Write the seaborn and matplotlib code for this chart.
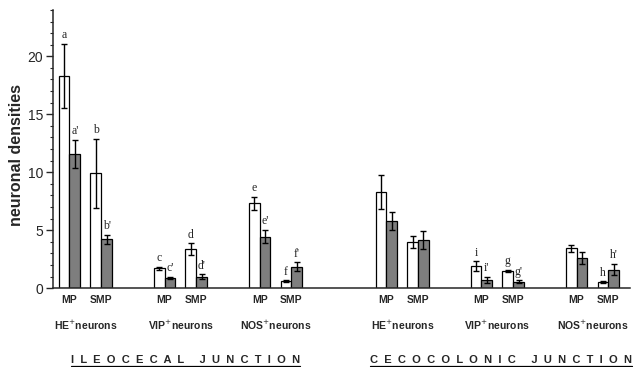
import matplotlib
matplotlib.use('Agg')
import matplotlib.pyplot as plt
from matplotlib.ticker import MultipleLocator
from matplotlib.lines import Line2D
import seaborn as sns
import pandas as pd
import numpy as np

# bar slots: MP / SMP for each neuron type, two junctions
positions = [0, 1, 3, 4, 6, 7, 10, 11, 13, 14, 16, 17]
plexus = ['MP', 'SMP'] * 6
neuron_types = ['HE$^{+}$neurons', 'VIP$^{+}$neurons', 'NOS$^{+}$neurons'] * 2
type_centers = [0.5, 3.5, 6.5, 10.5, 13.5, 16.5]
junctions = ['ILEOCECAL JUNCTION', 'CECOCOLONIC JUNCTION']
junction_centers = [3.67, 13.6]

open_vals = [18.3, 9.9, 1.7, 3.35, 7.3, 0.6, 8.3, 4.0, 1.9, 1.5, 3.45, 0.5]
open_err = [2.8, 3.0, 0.15, 0.5, 0.6, 0.1, 1.45, 0.5, 0.4, 0.1, 0.3, 0.1]
shaded_vals = [11.6, 4.2, 0.9, 1.0, 4.45, 1.85, 5.8, 4.15, 0.7, 0.55, 2.6, 1.6]
shaded_err = [1.2, 0.4, 0.1, 0.2, 0.6, 0.4, 0.75, 0.75, 0.3, 0.15, 0.5, 0.5]
open_marks = ['a', 'b', 'c', 'd', 'e', 'f', '', '', 'i', 'g', '', 'h']
shaded_marks = ["a'", "b'", "c'", "d'", "e'", "f'", '', '', "i'", "g'", '', "h'"]

df = pd.DataFrame({
    'pos': positions * 2,
    'value': open_vals + shaded_vals,
    'group': ['open'] * 12 + ['shaded'] * 12,
})


def spaced(s):
    # letter-spaced caption like the original typesetting
    words = s.split(' ')
    return '     '.join('  '.join(w) for w in words)


sns.set_style('ticks')
plt.rcParams['font.family'] = ['Liberation Sans', 'DejaVu Sans']

fig = plt.figure(figsize=(6.36, 3.67), dpi=100)
ax = fig.add_axes([0.0833, 0.215, 0.907, 0.758])

sns.barplot(data=df, x='pos', y='value', hue='group', native_scale=True,
            palette={'open': 'white', 'shaded': '#7e7e7e'}, width=0.68,
            gap=0, errorbar=None, edgecolor='black', linewidth=0.9,
            legend=False, ax=ax)

bar_sets = list(ax.containers[:2])
errs = [open_err, shaded_err]
marks = [open_marks, shaded_marks]
for k, cont in enumerate(bar_sets):
    for i, bar in enumerate(cont.patches):
        xc = bar.get_x() + bar.get_width() / 2
        h = bar.get_height()
        e = errs[k][i]
        ax.errorbar(xc, h, yerr=e, fmt='none', ecolor='black',
                    elinewidth=1.0, capsize=2.2, capthick=1.0)
        if marks[k][i]:
            ax.text(xc, h + e + 0.2, marks[k][i], ha='center', va='bottom',
                    fontsize=8.5, family='Liberation Serif')

ax.set_xlim(-0.52, 17.68)
ax.set_ylim(0, 24)
ax.set_xticks(positions)
ax.set_xticklabels(plexus, fontsize=7.5, fontweight='bold')
ax.tick_params(axis='x', length=0, pad=5)
ax.yaxis.set_major_locator(MultipleLocator(5))
ax.yaxis.set_minor_locator(MultipleLocator(1))
ax.set_yticks([0, 5, 10, 15, 20])
ax.tick_params(axis='y', which='major', length=5, width=1, labelsize=10, pad=2)
ax.tick_params(axis='y', which='minor', length=2.5, width=0.8)
ax.set_xlabel('')
ax.set_ylabel('neuronal densities', fontsize=11.5, fontweight='bold')
ax.yaxis.set_label_coords(-0.05, 0.48)
sns.despine(ax=ax)
ax.spines['left'].set_linewidth(1.1)
ax.spines['bottom'].set_linewidth(1.1)

trans = ax.get_xaxis_transform()
for xc, name in zip(type_centers, neuron_types):
    ax.text(xc, -0.135, name, transform=trans, ha='center', va='center',
            fontsize=7.5, fontweight='bold')

jtexts = []
for xc, name in zip(junction_centers, junctions):
    t = ax.text(xc, -0.26, spaced(name), transform=trans, ha='center',
                va='center', fontsize=8, fontweight='bold')
    jtexts.append(t)

fig.canvas.draw()
inv = fig.transFigure.inverted()
for t in jtexts:
    bb = t.get_window_extent()
    (x0, y0), (x1, y1) = inv.transform([(bb.x0, bb.y0 - 1), (bb.x1, bb.y0 - 1)])
    fig.add_artist(Line2D([x0, x1], [y0, y1], color='black', lw=0.9))

fig.savefig('out.png', dpi=100)
